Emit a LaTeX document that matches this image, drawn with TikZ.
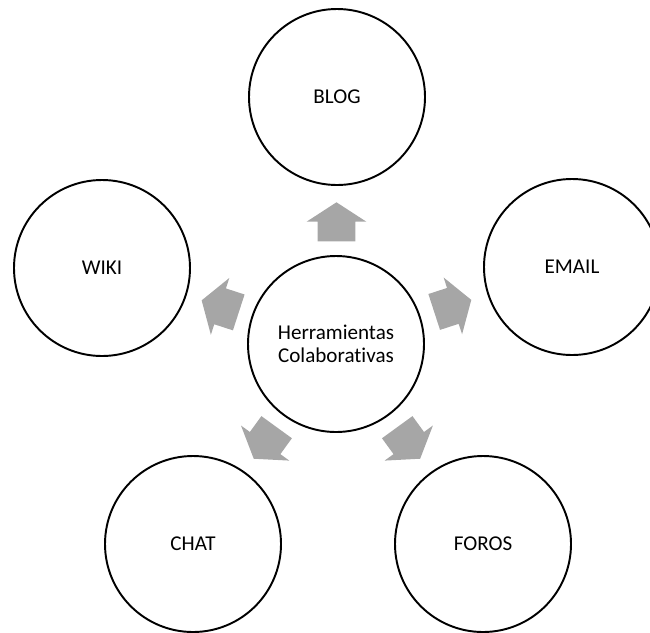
\documentclass[tikz,border=0pt]{standalone}
\usepackage{fontspec}
\setmainfont{Carlito}[Ligatures=NoCommon]
\usepackage{tikz}
\usetikzlibrary{calc, shapes, shapes.arrows}
\definecolor{arrowgray}{HTML}{A6A6A6}

\begin{document}
\begin{tikzpicture}
	\tikzstyle{tool}=[circle, draw, black, line width=1.1pt, fill=white,
	text=black, minimum size=3.52cm, inner sep=0pt, align=center,
	font=\fontsize{12}{13.1}\selectfont]
	\tikzstyle{pointer}=[single arrow, fill=arrowgray, draw=none,
	inner xsep=0pt, inner ysep=0.37cm, minimum height=0.78cm,
	single arrow head extend=0.22cm, single arrow tip angle=114]
	
	\useasboundingbox (0,0) rectangle (13,-12.64);
	
	\node[tool] at (6.72,-6.88) (hub) {Herramientas\\Colaborativas};
	\node[tool] at (6.74,-1.94) (blog) {BLOG};
	\node[tool] at (2.04,-5.36) (wiki) {WIKI};
	\node[tool] at (11.44,-5.34) (email) {EMAIL};
	\node[tool] at (3.86,-10.88) (chat) {CHAT};
	\node[tool] at (9.66,-10.88) (foros) {FOROS};
	
	\node[pointer, rotate=90] at ($(hub)!0.47!(blog)$) (toblog) {};
	\node[pointer, rotate=162] at ($(hub)!0.47!(wiki)$) (towiki) {};
	\node[pointer, rotate=18] at ($(hub)!0.47!(email)$) (toemail) {};
	\node[pointer, rotate=234] at ($(hub)!0.47!(chat)$) (tochat) {};
	\node[pointer, rotate=306] at ($(hub)!0.47!(foros)$) (toforos) {};
	
\end{tikzpicture}
\end{document}
